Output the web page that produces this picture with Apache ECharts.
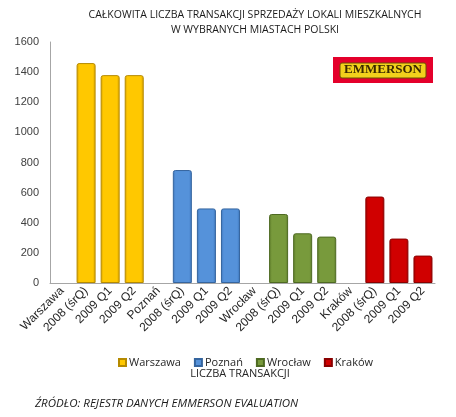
<!DOCTYPE html>
<html><head><meta charset="utf-8">
<script src="https://cdn.jsdelivr.net/npm/echarts@6/dist/echarts.min.js"></script>
<style>html,body{margin:0;padding:0;background:#fff}#c{width:456px;height:417px}</style>
</head><body><div id="c"></div>
<script>
const categories = ['Warszawa','2008 (śrQ)','2009 Q1','2009 Q2','Poznań','2008 (śrQ)','2009 Q1','2009 Q2','Wrocław','2008 (śrQ)','2009 Q1','2009 Q2','Kraków','2008 (śrQ)','2009 Q1','2009 Q2'];
const cities = ['Warszawa','Poznań','Wrocław','Kraków'];
const warszawa = [1460, 1380, 1380];
const poznan = [750, 495, 495];
const wroclaw = [458, 330, 308];
const krakow = [574, 295, 182];
const yTicks = [0, 1600, 200];
const titleLines = ['CAŁKOWITA LICZBA TRANSAKCJI SPRZEDAŻY LOKALI MIESZKALNYCH','W WYBRANYCH MIASTACH POLSKI'];
const axisTitle = 'LICZBA TRANSAKCJI';
const sourceText = 'ŹRÓDŁO: REJESTR DANYCH EMMERSON EVALUATION';

const seriesValues = [warszawa, poznan, wroclaw, krakow];
const palette = [
  {fill:'#FFC800', dark:'#D9A300', border:'#B58A00'},
  {fill:'#5592DA', dark:'#3F76BC', border:'#35659F'},
  {fill:'#789A3C', dark:'#5F7D2C', border:'#4E6A22'},
  {fill:'#D00000', dark:'#A80000', border:'#8A0000'}
];
function grad(p){
  return new echarts.graphic.LinearGradient(0,0,1,0,[
    {offset:0,color:p.dark},{offset:0.15,color:p.fill},{offset:0.85,color:p.fill},{offset:1,color:p.dark}
  ]);
}
const series = cities.map((name, i) => {
  const data = categories.map(() => '-');
  seriesValues[i].forEach((v, j) => { data[i*4 + 1 + j] = v; });
  return {
    name, type:'bar', stack:'all', data, barWidth:'79%',
    itemStyle:{color:grad(palette[i]), borderColor:palette[i].border, borderWidth:1, borderRadius:[2,2,0,0]}
  };
});

const chart = echarts.init(document.getElementById('c'), null, {renderer:'canvas'});
const titleFont = '"Liberation Sans Narrow", "Open Sans", sans-serif';
chart.setOption({
  animation:false,
  color: palette.map(p=>p.fill),
  grid:{left:50, right:21, top:42, bottom:134, containLabel:false},
  xAxis:{
    type:'category', data:categories,
    axisLine:{show:true, lineStyle:{color:'#A6A6A6'}},
    axisTick:{show:false},
    axisLabel:{rotate:45, interval:0, fontSize:12, color:'#262626', fontFamily:'Liberation Sans, Arial, sans-serif', margin:6}
  },
  yAxis:{
    type:'value', min:yTicks[0], max:yTicks[1], interval:yTicks[2],
    axisLine:{show:true, lineStyle:{color:'#A6A6A6'}},
    axisTick:{show:false},
    splitLine:{show:false},
    axisLabel:{fontSize:11, color:'#404040', fontFamily:'Liberation Sans, Arial, sans-serif', margin:11, formatter:v=>String(v)}
  },
  legend:{
    data: cities, left:113, top:352, itemWidth:7, itemHeight:7, itemGap:13,
    icon:'rect',
    textStyle:{fontSize:11, color:'#262626', fontFamily:titleFont, padding:[0,0,0,-2]}
  },
  series,
  graphic:[
    {type:'text', x:255, y:10, style:{text:titleLines[0], fontSize:10.5, fontFamily:titleFont, fill:'#1a1a1a', align:'center'}},
    {type:'text', x:255, y:25, style:{text:titleLines[1], fontSize:10.5, fontFamily:titleFont, fill:'#1a1a1a', align:'center'}},
    {type:'text', x:240, y:368, style:{text:axisTitle, fontSize:11, fontFamily:titleFont, fill:'#262626', align:'center'}},
    {type:'text', x:35, y:398, style:{text:sourceText, fontSize:11.5, fontStyle:'italic', fontFamily:'"Open Sans", sans-serif', fill:'#1a1a1a', align:'left'}},
    {type:'rect', shape:{x:333, y:57, width:100, height:26}, style:{fill:'#E4002B'}},
    {type:'rect', shape:{x:340, y:63, width:86, height:15, r:2}, style:{fill:'#F2D11C', stroke:'#6B5200', lineWidth:1}},
    {type:'text', x:383, y:63, style:{text:'EMMERSON', fontSize:13, fontWeight:'bold', fontFamily:'"Liberation Serif", "DejaVu Serif", serif', fill:'#3A2A00', align:'center'}}
  ]
});
</script></body></html>
